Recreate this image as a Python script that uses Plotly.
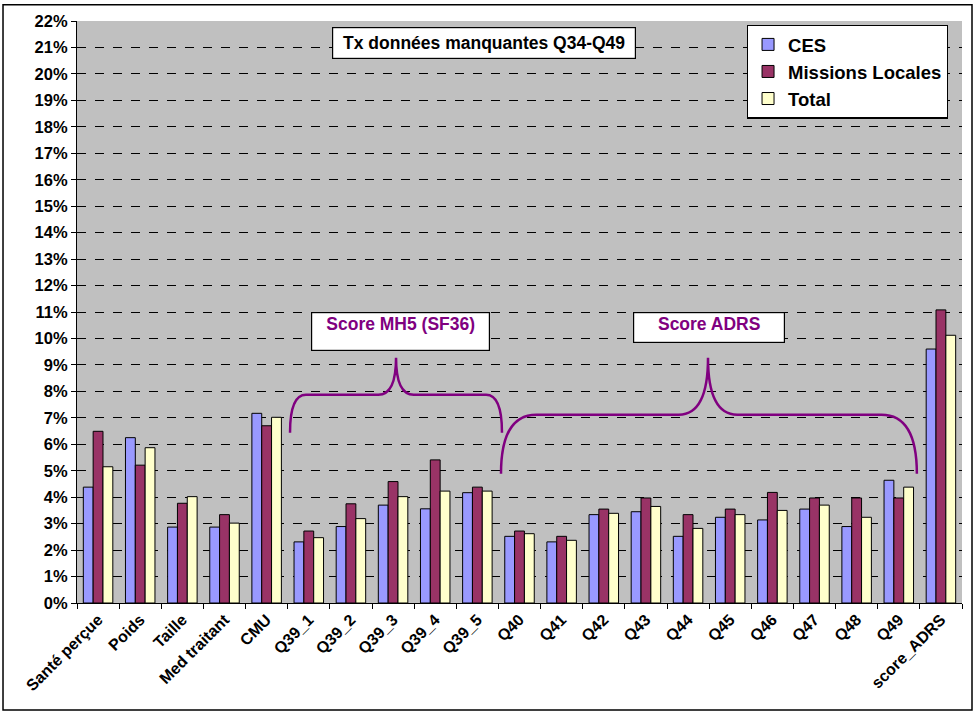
import plotly.graph_objects as go

categories = [
    "Santé perçue", "Poids", "Taille", "Med traitant", "CMU",
    "Q39_1", "Q39_2", "Q39_3", "Q39_4", "Q39_5",
    "Q40", "Q41", "Q42", "Q43", "Q44", "Q45", "Q46", "Q47", "Q48", "Q49",
    "score_ADRS",
]
ces = [4.38, 6.25, 2.87, 2.87, 7.17, 2.31, 2.89, 3.70, 3.56, 4.17,
       2.52, 2.31, 3.34, 3.45, 2.52, 3.24, 3.14, 3.55, 2.89, 4.64, 9.60]
missions_locales = [6.49, 5.21, 3.77, 3.34, 6.70, 2.72, 3.75, 4.59, 5.41, 4.38,
                    2.72, 2.52, 3.55, 3.97, 3.34, 3.55, 4.18, 3.97, 3.97, 3.97, 11.08]
total = [5.15, 5.87, 4.02, 3.02, 7.02, 2.47, 3.19, 4.02, 4.23, 4.23,
         2.62, 2.37, 3.39, 3.65, 2.82, 3.34, 3.50, 3.70, 3.24, 4.38, 10.12]

FONT = "Arial, Liberation Sans, sans-serif"
PURPLE = "#800080"

fig = go.Figure()
for name, vals, color in [("CES", ces, "#9999FF"),
                          ("Missions Locales", missions_locales, "#993366"),
                          ("Total", total, "#FFFFCC")]:
    fig.add_trace(go.Bar(
        name=name, x=categories, y=vals,
        marker=dict(color=color, line=dict(color="black", width=1)),
    ))


def brace_path(x0, xm, x1, y_end, y_base, y_tip, r0, r1):
    # accolade horizontale : extrémités en bas, pointe au milieu
    return (f"M {x0},{y_end} Q {x0},{y_base} {x0 + r0},{y_base} "
            f"L {xm - r1},{y_base} Q {xm},{y_base} {xm},{y_tip} "
            f"Q {xm},{y_base} {xm + r1},{y_base} "
            f"L {x1 - r0},{y_base} Q {x1},{y_base} {x1},{y_end}")


shapes = [
    dict(type="path", xref="paper", yref="y", line=dict(color=PURPLE, width=2.5),
         path=brace_path(0.2407, 0.3605, 0.4802, 6.44, 7.87, 9.27, 0.018, 0.02)),
    dict(type="path", xref="paper", yref="y", line=dict(color=PURPLE, width=2.5),
         path=brace_path(0.4791, 0.7130, 0.9490, 4.89, 7.12, 9.27, 0.04, 0.033)),
    dict(type="rect", xref="paper", yref="paper", x0=-0.0836, x1=1.0113, y0=-0.184, y1=1.028,
         line=dict(color="black", width=1.5), layer="below"),
]

annotations = [
    dict(text="Tx données manquantes Q34-Q49", xref="paper", yref="paper",
         x=(483.5 - 77) / 885, y=(602.7 - 41) / 583.4,
         xanchor="center", yanchor="middle", showarrow=False,
         font=dict(family=FONT, size=17.5, color="black", weight="bold"),
         bgcolor="white", bordercolor="black", borderwidth=1.2,
         width=300, height=28),
    dict(text="Score MH5 (SF36)", xref="paper", yref="paper",
         x=(400.5 - 77) / 885, y=(602.7 - 330.5) / 583.4,
         xanchor="center", yanchor="middle", showarrow=False,
         font=dict(family=FONT, size=17.5, color=PURPLE, weight="bold"),
         bgcolor="white", bordercolor="black", borderwidth=1.2,
         width=175, height=35, valign="top"),
    dict(text="Score ADRS", xref="paper", yref="paper",
         x=(708.5 - 77) / 885, y=(602.7 - 326.5) / 583.4,
         xanchor="center", yanchor="middle", showarrow=False,
         font=dict(family=FONT, size=17.5, color=PURPLE, weight="bold"),
         bgcolor="white", bordercolor="black", borderwidth=1.2,
         width=148, height=27, valign="top"),
]

fig.update_layout(
    width=976, height=713,
    margin=dict(l=77, r=14, t=19, b=110),
    paper_bgcolor="white",
    plot_bgcolor="#C0C0C0",
    barmode="group",
    bargap=0.3,
    bargroupgap=0,
    font=dict(family=FONT, color="black"),
    showlegend=True,
    legend=dict(
        x=0.984, y=(602.7 - 23) / 583.4, xanchor="right", yanchor="top",
        bgcolor="white", bordercolor="black", borderwidth=1.2,
        font=dict(family=FONT, size=18.5, color="black", weight="bold"),
        itemwidth=30, tracegroupgap=0,
    ),
    shapes=shapes,
    annotations=annotations,
)

fig.update_yaxes(
    range=[0, 22], dtick=1, ticksuffix="%",
    showgrid=True, gridcolor="black", griddash="dash", gridwidth=1,
    showline=True, linecolor="black", linewidth=1.2,
    ticks="outside", ticklen=5, tickcolor="black",
    tickfont=dict(family=FONT, size=16.5, color="black", weight="bold"),
    zeroline=False,
)
fig.update_xaxes(
    showline=True, linecolor="black", linewidth=1.2,
    ticks="outside", ticklen=5, tickcolor="black", tickson="boundaries",
    tickangle=-45,
    tickfont=dict(family=FONT, size=16, color="black", weight="bold"),
)

# la page a une marge de 8 px par défaut : on la supprime
fig.write_html("out.html", config={"displayModeBar": False},
               post_script="document.body.style.margin='0';")
